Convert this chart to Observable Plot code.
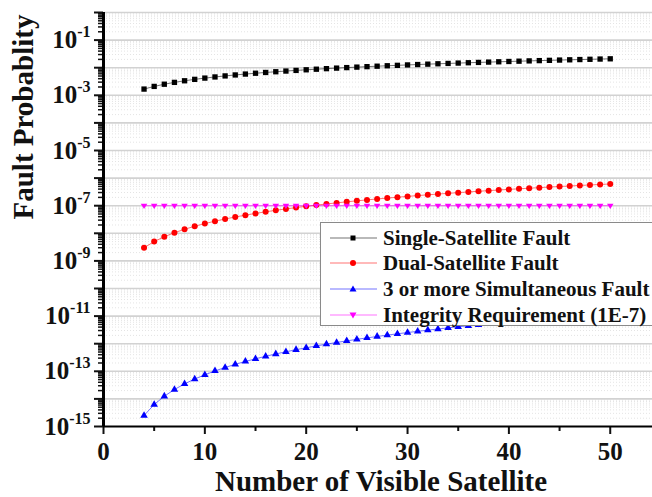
<!DOCTYPE html>
<html><head><meta charset="utf-8">
<script src="https://cdn.jsdelivr.net/npm/d3@7"></script>
<script src="https://cdn.jsdelivr.net/npm/@observablehq/plot@0.6"></script>
<style>
html,body{margin:0;padding:0;background:#fff;overflow:hidden;}
#wrap{position:relative;width:652px;height:497px;overflow:hidden;font-family:"Liberation Serif","Times New Roman",serif;}
#legend{position:absolute;left:320px;top:222px;width:400px;height:104px;background:#fff;border:1px solid #8a8a8a;box-sizing:border-box;}
.row{position:absolute;left:0;height:26px;display:flex;align-items:center;white-space:nowrap;}
.row svg{margin-left:9px;}
.row span{margin-left:6px;font-weight:bold;font-size:21px;color:#111;}
</style></head>
<body><div id="wrap"></div>
<script>
const satellites = [4,5,6,7,8,9,10,11,12,13,14,15,16,17,18,19,20,21,22,23,24,25,26,27,28,29,30,31,32,33,34,35,36,37,38,39,40,41,42,43,44,45,46,47,48,49,50];
const singleFault = [1.68e-3,2.10e-3,2.52e-3,2.94e-3,3.36e-3,3.78e-3,4.20e-3,4.62e-3,5.04e-3,5.46e-3,5.88e-3,6.30e-3,6.72e-3,7.14e-3,7.56e-3,7.98e-3,8.40e-3,8.82e-3,9.24e-3,9.66e-3,1.008e-2,1.05e-2,1.092e-2,1.134e-2,1.176e-2,1.218e-2,1.26e-2,1.302e-2,1.344e-2,1.386e-2,1.428e-2,1.47e-2,1.512e-2,1.554e-2,1.596e-2,1.638e-2,1.68e-2,1.722e-2,1.764e-2,1.806e-2,1.848e-2,1.89e-2,1.932e-2,1.974e-2,2.016e-2,2.058e-2,2.10e-2];
const dualFault = [3.0e-9,5.0e-9,7.5e-9,1.05e-8,1.4e-8,1.8e-8,2.25e-8,2.75e-8,3.3e-8,3.9e-8,4.55e-8,5.25e-8,6.0e-8,6.8e-8,7.65e-8,8.55e-8,9.5e-8,1.05e-7,1.155e-7,1.265e-7,1.38e-7,1.5e-7,1.625e-7,1.755e-7,1.89e-7,2.03e-7,2.175e-7,2.325e-7,2.48e-7,2.64e-7,2.805e-7,2.975e-7,3.15e-7,3.33e-7,3.515e-7,3.705e-7,3.9e-7,4.1e-7,4.305e-7,4.515e-7,4.73e-7,4.95e-7,5.175e-7,5.405e-7,5.64e-7,5.88e-7,6.125e-7];
const tripleFault = [2.5e-15,6.25e-15,1.25e-14,2.19e-14,3.5e-14,5.25e-14,7.5e-14,1.03e-13,1.375e-13,1.79e-13,2.275e-13,2.84e-13,3.5e-13,4.25e-13,5.1e-13,6.06e-13,7.125e-13,8.31e-13,9.625e-13,1.107e-12,1.265e-12,1.4375e-12,1.625e-12,1.828e-12,2.0475e-12,2.284e-12,2.5375e-12,2.809e-12,3.1e-12,3.41e-12,3.74e-12,4.09e-12,4.4625e-12,4.856e-12,5.2725e-12,5.712e-12,6.175e-12,6.6625e-12,7.175e-12,7.713e-12,8.2775e-12,8.869e-12,9.4875e-12,1.0134e-11,1.081e-11,1.1515e-11,1.225e-11];
const integrityRequirement = [1e-7,1e-7,1e-7,1e-7,1e-7,1e-7,1e-7,1e-7,1e-7,1e-7,1e-7,1e-7,1e-7,1e-7,1e-7,1e-7,1e-7,1e-7,1e-7,1e-7,1e-7,1e-7,1e-7,1e-7,1e-7,1e-7,1e-7,1e-7,1e-7,1e-7,1e-7,1e-7,1e-7,1e-7,1e-7,1e-7,1e-7,1e-7,1e-7,1e-7,1e-7,1e-7,1e-7,1e-7,1e-7,1e-7,1e-7];
const seriesNames = ["Single-Satellite Fault","Dual-Satellite Fault","3 or more Simultaneous Fault","Integrity Requirement (1E-7)"];
const seriesColors = ["#000000","#ff0000","#0000ff","#ff00ff"];
const xMajorTicks = [0,10,20,30,40,50];
const xMinorTicks = [5,15,25,35,45];
const yDecades = [1e-15,1e-14,1e-13,1e-12,1e-11,1e-10,1e-9,1e-8,1e-7,1e-6,1e-5,1e-4,1e-3,1e-2,1e-1,1e0];
const xTitle = "Number of Visible Satellite";
const yTitle = "Fault Probablity";

const yMinor = [];
for (const d of yDecades.slice(0,-1)) for (const m of [2,3,4,5,6,7,8,9]) yMinor.push(d*m);

const triangleDown = {draw(ctx, size){ const s = Math.sqrt(size)*0.62; ctx.moveTo(-s,-s*0.62); ctx.lineTo(s,-s*0.62); ctx.lineTo(0,s*1.0); ctx.closePath(); }};
const symbols = ["square","circle","triangle",triangleDown];
const sizes = [3.0,3.0,2.8,3.0];
const allSeries = [singleFault, dualFault, tripleFault, integrityRequirement];

const rows = [];
allSeries.forEach((vals,k)=>vals.forEach((v,i)=>rows.push({n:satellites[i], p:v, s:k})));

const marks = [
  Plot.ruleY(yMinor, {stroke:"#e4e4e4", strokeWidth:1, strokeDasharray:"1,2"}),
  Plot.ruleY(yDecades.slice(1), {stroke:"#d2d2d2", strokeWidth:1.6}),
];
allSeries.forEach((vals,k)=>{
  const d = rows.filter(r=>r.s===k);
  marks.push(Plot.line(d, {x:"n", y:"p", stroke:seriesColors[k], strokeWidth:1, strokeOpacity:0.55}));
});
allSeries.forEach((vals,k)=>{
  const d = rows.filter(r=>r.s===k);
  marks.push(Plot.dot(d, {x:"n", y:"p", fill:seriesColors[k], stroke:"none", symbol:()=>symbols[k], r:sizes[k]}));
});
marks.push(
  Plot.axisY({ticks:yDecades, tickSize:9, tickPadding:4, strokeWidth:2, fontSize:25, label:null,
    tickFormat:d=>{const e=Math.round(Math.log10(d)); return (e%2!==0) ? `10^${e}` : "";}}),
  Plot.axisY({ticks:yMinor, tickSize:5, strokeWidth:1.5, tickFormat:()=>"", label:null}),
  Plot.axisX({ticks:xMajorTicks, tickSize:8, tickPadding:8, strokeWidth:2, fontSize:25, label:null, tickFormat:d=>String(d)}),
  Plot.axisX({ticks:xMinorTicks, tickSize:5, strokeWidth:2, tickFormat:()=>"", label:null}),
  Plot.ruleX([0], {stroke:"#000", strokeWidth:3}),
  Plot.ruleY([1e-15], {stroke:"#000", strokeWidth:2.2}),
  Plot.text([xTitle], {frameAnchor:"bottom", text:d=>d, dx:3, dy:55, fontSize:29, fontWeight:"bold", lineAnchor:"middle"}),
  Plot.text([yTitle], {frameAnchor:"left", text:d=>d, rotate:-90, dx:-80, fontSize:29, fontWeight:"bold", lineAnchor:"middle"})
);

const chart = Plot.plot({
  width:652, height:497,
  marginLeft:103, marginRight:0, marginTop:12, marginBottom:71,
  x:{domain:[0,54.17]},
  y:{type:"log", domain:[1e-15,1]},
  style:{fontFamily:"'Liberation Serif','Times New Roman',serif", fontWeight:"bold", background:"#fff", color:"#111", overflow:"visible"},
  marks
});
document.getElementById("wrap").appendChild(chart);

// superscripts for log tick labels
chart.querySelectorAll('g[aria-label="y-axis tick label"] text').forEach(t=>{
  const parts = t.textContent.split("^");
  if (parts.length < 2) return;
  t.textContent = parts[0];
  const ts = document.createElementNS("http://www.w3.org/2000/svg","tspan");
  ts.setAttribute("dy","-11");
  ts.setAttribute("font-size","16");
  ts.textContent = parts[1];
  t.appendChild(ts);
});

// legend
const legend = document.createElement("div");
legend.id = "legend";
const rowTops = [2,27,53,79];
seriesNames.forEach((name,k)=>{
  const row = document.createElement("div");
  row.className = "row";
  row.style.top = rowTops[k]+"px";
  const c = seriesColors[k];
  let sym;
  if (k===0) sym = `<rect x="20.5" y="7.5" width="5" height="5" fill="${c}"/>`;
  else if (k===1) sym = `<circle cx="23" cy="10" r="3" fill="${c}"/>`;
  else if (k===2) sym = `<path d="M23,6.5 L26.5,12.5 L19.5,12.5 Z" fill="${c}"/>`;
  else sym = `<path d="M19.5,7.5 L26.5,7.5 L23,13.5 Z" fill="${c}"/>`;
  row.innerHTML = `<svg width="47" height="20" viewBox="0 0 47 20"><line x1="0" y1="10" x2="47" y2="10" stroke="${c}" stroke-opacity="0.55" stroke-width="1"/>${sym}</svg><span>${name}</span>`;
  legend.appendChild(row);
});
document.getElementById("wrap").appendChild(legend);
</script></body></html>
